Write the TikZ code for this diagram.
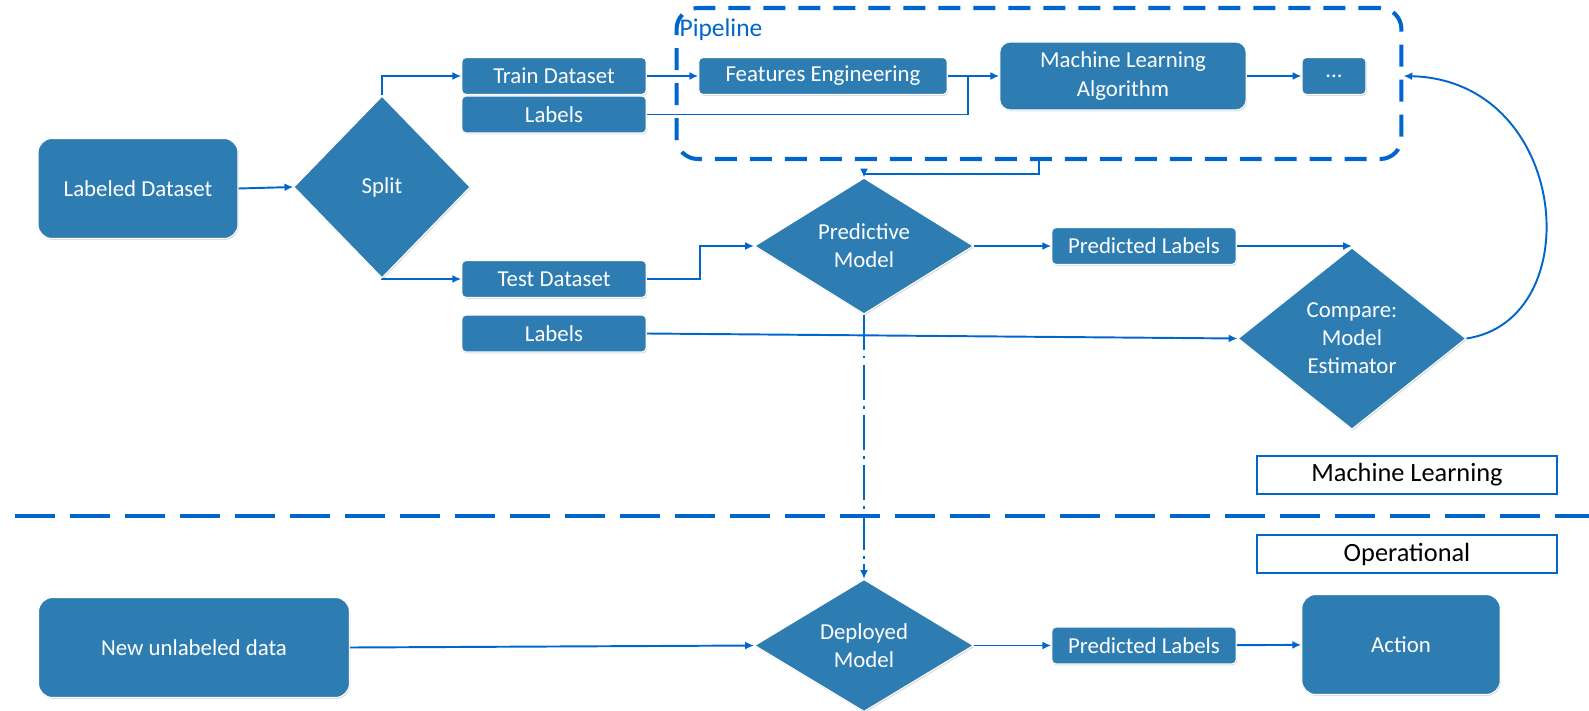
\documentclass[tikz,border=0pt]{standalone}
\usepackage{fontspec}
\setmainfont{Carlito}
\usetikzlibrary{shapes.geometric,arrows.meta,shadows}
\definecolor{boxblue}{RGB}{46,125,178}
\definecolor{lineblue}{RGB}{0,102,204}

\begin{document}
\begin{tikzpicture}[x=0.02cm, y=-0.02cm,
  every node/.style={font=\fontsize{13}{16}\selectfont},
  box/.style={draw=white, line width=0.6pt, fill=boxblue, text=white,
    rounded corners=2.5pt, minimum width=3.69cm, minimum height=0.74cm,
    inner sep=0pt, align=center,
    drop shadow={shadow xshift=0.5pt, shadow yshift=-0.8pt, opacity=0.3}},
  bigbox/.style={box, rounded corners=8pt, minimum height=2cm},
  decision/.style={diamond, draw=white, line width=0.6pt, fill=boxblue,
    text=white, inner sep=0pt, align=center,
    drop shadow={shadow xshift=0.5pt, shadow yshift=-0.8pt, opacity=0.3}},
  tag/.style={draw=lineblue, line width=1.2pt, fill=white,
    minimum width=6cm, minimum height=0.75cm, font=\fontsize{15}{16}\selectfont},
  link/.style={draw=lineblue, line width=1.1pt},
  flow/.style={link, -{Latex[length=5pt,width=4.5pt]}}]
  \useasboundingbox (0,0) rectangle (1589,710);

  % machine learning part
  \node[bigbox, minimum width=4cm] (labeled) at (138,188.5) {Labeled Dataset};
  \node[decision, minimum width=3.53cm, minimum height=3.64cm] (split) at (382,187) {Split};
  \node[box] (train) at (554,76) {Train Dataset};
  \node[box] (labels1) at (554,114.5) {Labels};
  \node[box] (test) at (554,279) {Test Dataset};
  \node[box] (labels2) at (554,333.5) {Labels};

  \node[draw=lineblue, line width=2.3pt, dash pattern=on 0.44cm off 0.26cm,
    rounded corners=12pt, minimum width=14.5cm, minimum height=3.02cm]
    (pipeline) at (1039,83.5) {};
  \node[text=lineblue, font=\fontsize{14.5}{16}\selectfont] (pipetitle) at (721,30) {Pipeline};
  \node[box, minimum width=4.97cm] (features) at (823,76) {Features Engineering};
  \node[box, rounded corners=6pt, minimum width=4.93cm, minimum height=1.36cm] (algo) at (1123,76) {Machine Learning\\Algorithm};
  \node[box, minimum width=1.28cm] (dots) at (1334,76) {...};

  \node[decision, minimum width=4.38cm, minimum height=2.5cm] (predictive) at (864,246) {Predictive\\Model};
  \node[box] (predicted1) at (1144,246) {Predicted Labels};
  \node[decision, minimum width=4.56cm, minimum height=3.63cm] (compare) at (1352,338.5) {Compare:\\Model\\Estimator};

  \node[tag] (mltag) at (1407,475) {Machine Learning};
  \node[tag] (optag) at (1407,554) {Operational};

  % operational part
  \node[bigbox, minimum width=6.22cm] (newdata) at (194,647.5) {New unlabeled data};
  \node[decision, minimum width=4.38cm, minimum height=2.5cm] (deployed) at (864,645.5) {Deployed\\Model};
  \node[box] (predicted2) at (1144,645.5) {Predicted Labels};
  \node[bigbox, minimum width=3.97cm] (action) at (1401,644.5) {Action};

  % connectors
  \coordinate (join) at (968,76);
  \coordinate (deploytip) at ([yshift=0.3cm]deployed.north);
  \draw[flow] (labeled.east) -- (split.west);
  \draw[flow] (split.north) |- (train.west);
  \draw[flow] (split.south) |- (test.west);
  \draw[flow] (train) -- (features);
  \draw[flow] (features) -- (algo);
  \draw[link] (labels1.east) -| (join);
  \draw[flow] (algo) -- (dots);
  \draw[flow] (pipeline.south) -- ++(0,13) -| (predictive.north);
  \draw[flow] (test.east) -- ++(53,0) |- (predictive.west);
  \draw[flow] (predictive) -- (predicted1);
  \draw[flow] (predicted1.east) -- (predicted1.east -| compare.north);
  \draw[flow] (labels2.east) -- (compare.west);
  \draw[flow] (compare.east) .. controls (1590,320) and (1570,80) .. (pipeline.east |- dots);
  \draw[link, line width=1.2pt, dash pattern=on 20pt off 3.5pt on 1.5pt off 3.5pt] (predictive.south) -- (deploytip);
  \draw[flow] (deploytip) -- (deployed.north);

  \draw[link, line width=2.3pt, dash pattern=on 0.8cm off 0.3cm] (15,516) -- (1589,516);

  \draw[flow] (newdata.east) -- (deployed.west);
  \draw[flow] (deployed) -- (predicted2);
  \draw[flow] (predicted2) -- (action);
\end{tikzpicture}
\end{document}
